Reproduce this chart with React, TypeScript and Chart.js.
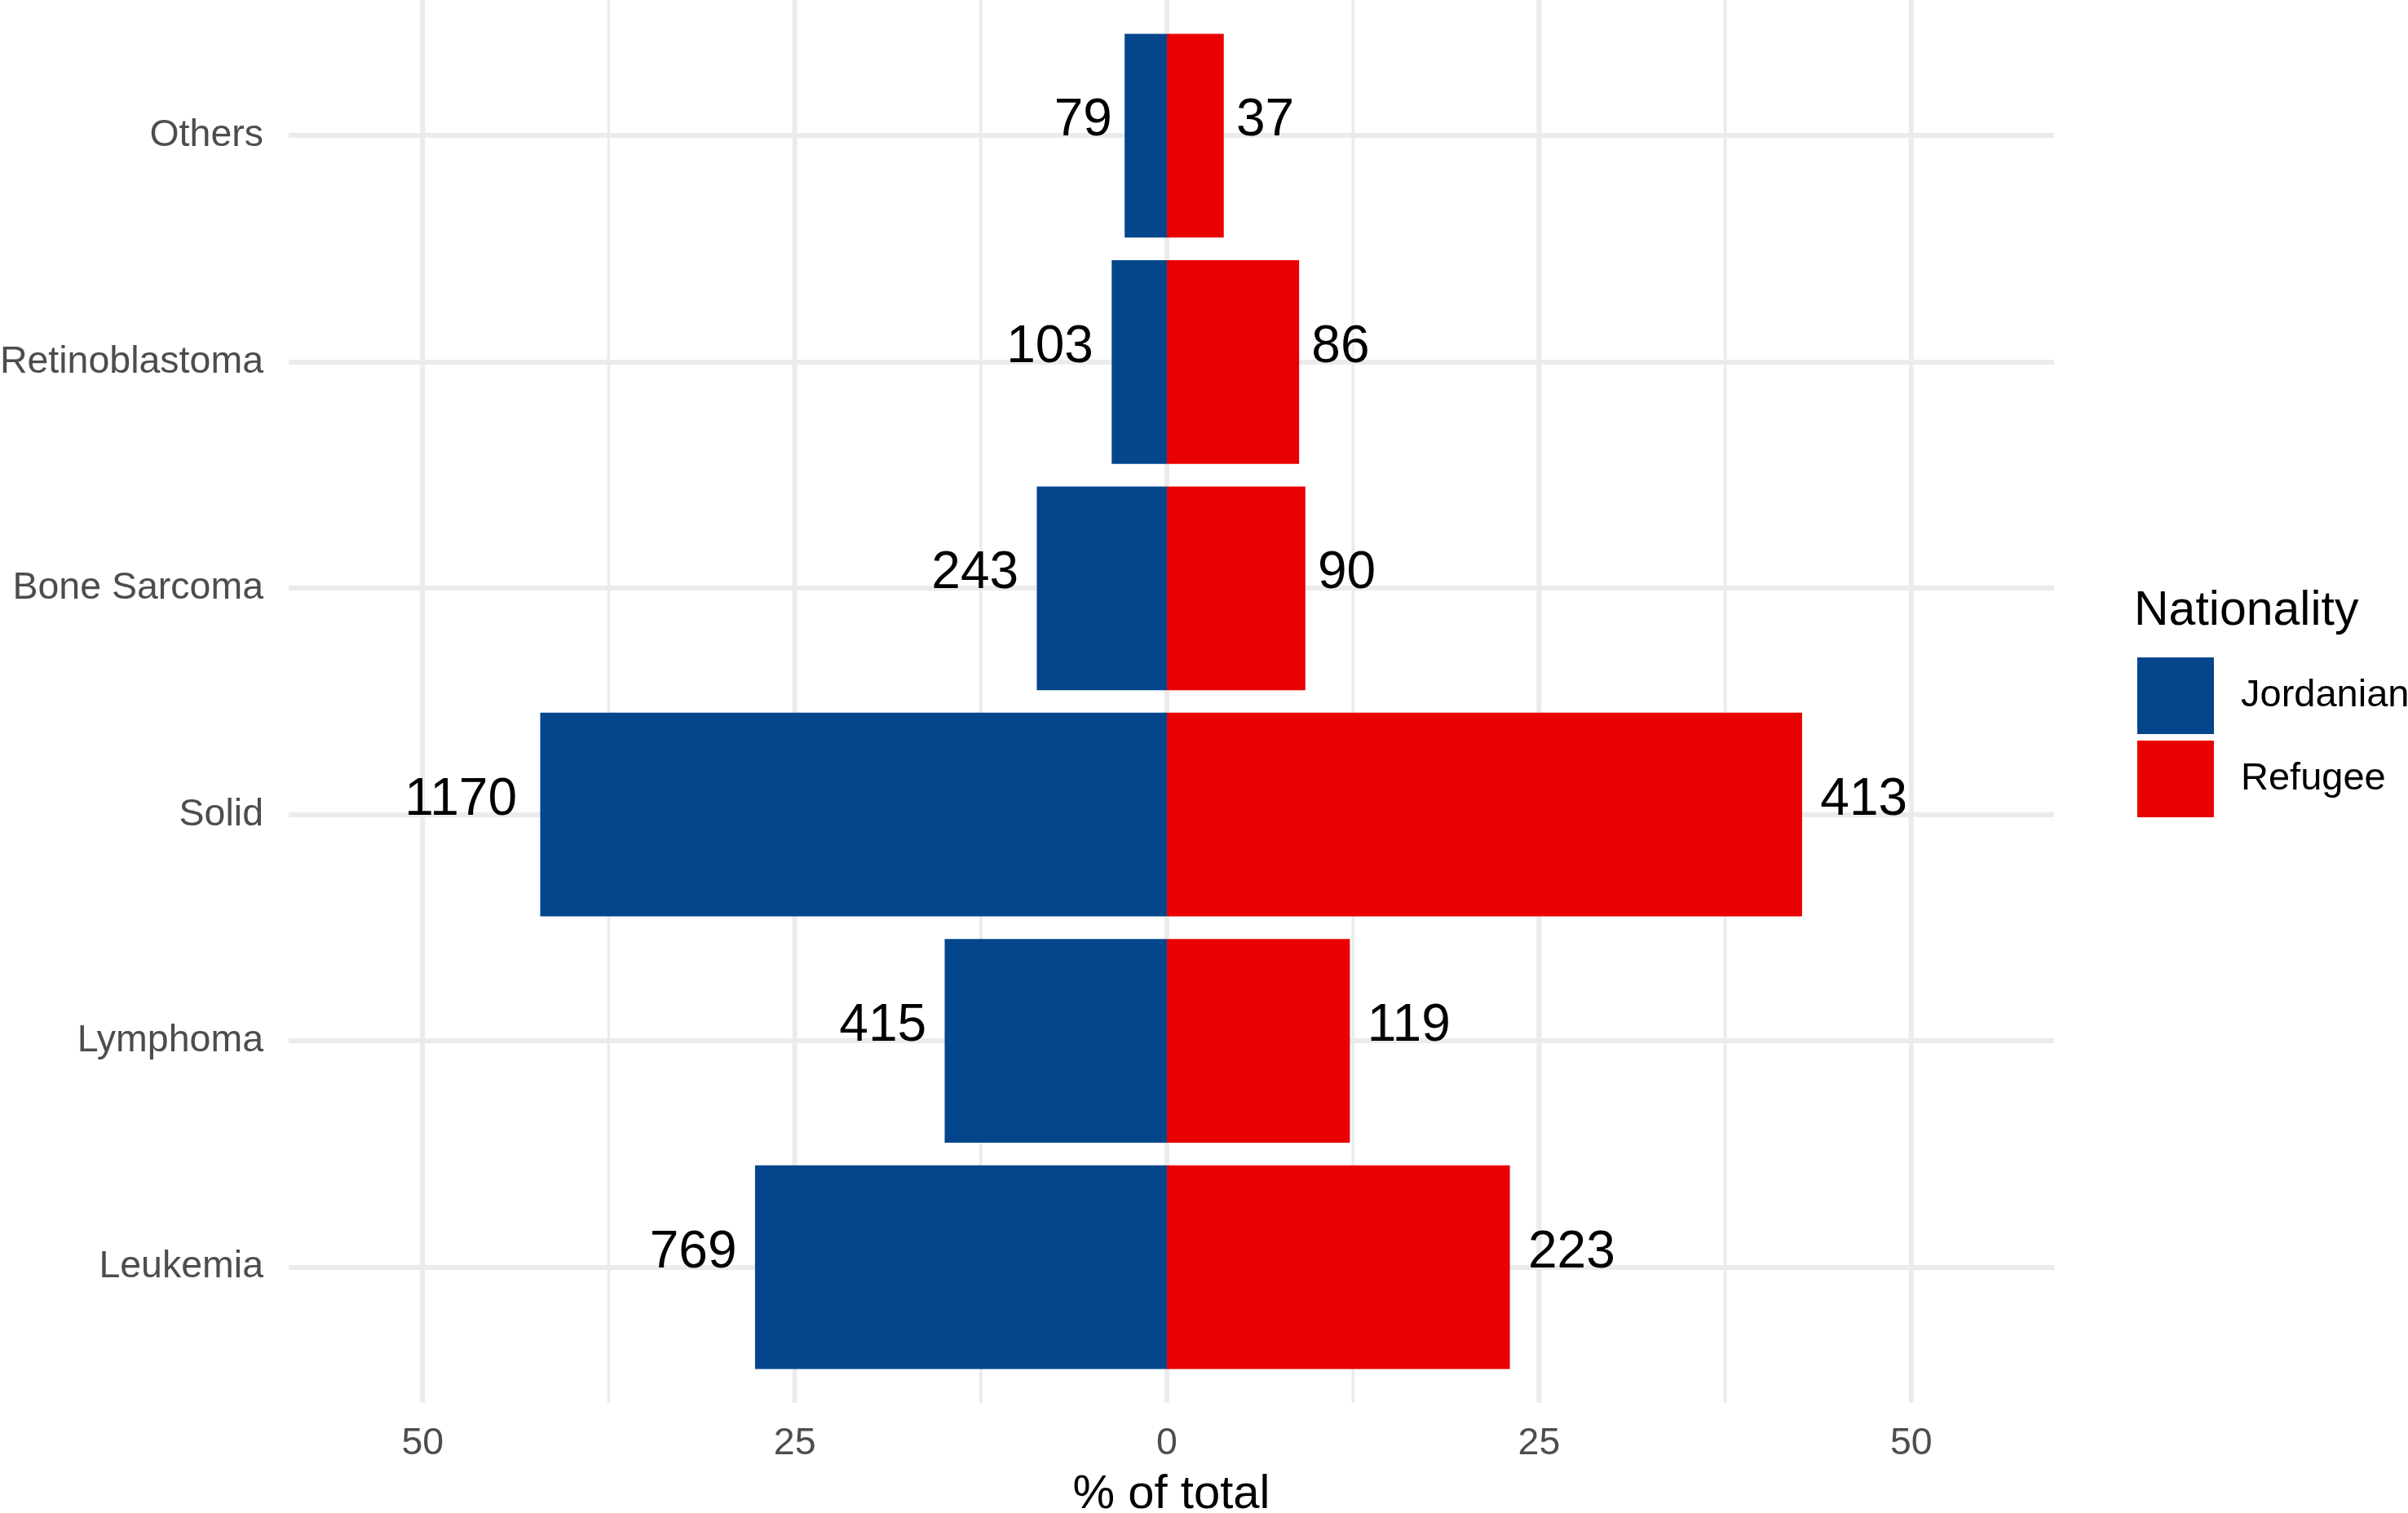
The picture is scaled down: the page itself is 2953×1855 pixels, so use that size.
import { useEffect, useRef } from "react";
import Chart from "chart.js/auto";

// categories from bottom to top
const categories = ["Leukemia", "Lymphoma", "Solid", "Bone Sarcoma", "Retinoblastoma", "Others"];
const jordanianPct = [27.67, 14.93, 42.1, 8.74, 3.71, 2.84];
const refugeePct = [23.04, 12.29, 42.67, 9.3, 8.88, 3.82];
const jordanianCount = [769, 415, 1170, 243, 103, 79];
const refugeeCount = [223, 119, 413, 90, 86, 37];

const seriesNames = ["Jordanian", "Refugee"];
const seriesColors = ["#03468C", "#EA0000"];
const legendTitle = "Nationality";

const xMajorTicks = [-50, -25, 0, 25, 50];
const xTickLabels = ["50", "25", "0", "25", "50"];
const xMinorTicks = [-37.5, -12.5, 12.5, 37.5];

const W = 2953;
const H = 1855;
const FONT = "'Liberation Sans', Arial, Helvetica, sans-serif";
const GRID = "#EBEBEB";
const AXIS_TEXT = "#4D4D4D";

// vertical grid drawn by hand so Chart.js does not cut the bars at the zero line
const xGrid = {
    id: "xGrid",
    beforeDatasetsDraw(chart: Chart) {
        const { ctx, chartArea } = chart;
        const xs = chart.scales.x;
        ctx.save();
        ctx.strokeStyle = GRID;
        [...xMajorTicks, ...xMinorTicks].forEach((v) => {
            const px = xs.getPixelForValue(v);
            ctx.lineWidth = xMajorTicks.includes(v) ? 6 : 3.5;
            ctx.beginPath();
            ctx.moveTo(px, chartArea.top);
            ctx.lineTo(px, chartArea.bottom);
            ctx.stroke();
        });
        ctx.restore();
    },
};

const barLabels = {
    id: "barLabels",
    afterDatasetsDraw(chart: Chart) {
        const ctx = chart.ctx;
        const counts = [jordanianCount, refugeeCount];
        ctx.save();
        ctx.font = `64px ${FONT}`;
        ctx.fillStyle = "#000000";
        ctx.textBaseline = "alphabetic";
        chart.data.datasets.forEach((_ds, di) => {
            const meta = chart.getDatasetMeta(di);
            meta.data.forEach((bar: any, i: number) => {
                const txt = String(counts[di][i]);
                const gap = ctx.measureText(txt).width * 0.2 + 1;
                const neg = di === 0;
                ctx.textAlign = neg ? "right" : "left";
                ctx.fillText(txt, bar.x + (neg ? -gap : gap), bar.y);
            });
        });
        ctx.restore();
    },
};

const legendBox = {
    id: "legendBox",
    afterDraw(chart: Chart) {
        const ctx = chart.ctx;
        ctx.save();
        ctx.fillStyle = "#000000";
        ctx.font = `59px ${FONT}`;
        ctx.textAlign = "left";
        ctx.textBaseline = "alphabetic";
        ctx.fillText(legendTitle, 2617, 766);
        seriesNames.forEach((name, i) => {
            const top = 806 + i * 102;
            ctx.fillStyle = seriesColors[i];
            ctx.fillRect(2621, top, 94, 94);
            ctx.fillStyle = "#000000";
            ctx.font = `47px ${FONT}`;
            ctx.textBaseline = "middle";
            ctx.fillText(name, 2748, top + 47);
        });
        ctx.restore();
    },
};

const noPadding = (axis: any) => {
    axis.paddingTop = 0;
    axis.paddingBottom = 0;
    axis.paddingLeft = 0;
    axis.paddingRight = 0;
};

export default function App() {
    const canvasRef = useRef<HTMLCanvasElement | null>(null);
    const chartRef = useRef<Chart | null>(null);

    useEffect(() => {
        if (!canvasRef.current) return;
        if (chartRef.current) chartRef.current.destroy();

        chartRef.current = new Chart(canvasRef.current, {
            type: "bar",
            data: {
                datasets: [
                    {
                        label: seriesNames[0],
                        data: jordanianPct.map((v, i) => ({ x: -v, y: i })),
                        backgroundColor: seriesColors[0],
                        borderWidth: 0,
                        barPercentage: 0.9,
                        categoryPercentage: 1,
                    },
                    {
                        label: seriesNames[1],
                        data: refugeePct.map((v, i) => ({ x: v, y: i })),
                        backgroundColor: seriesColors[1],
                        borderWidth: 0,
                        barPercentage: 0.9,
                        categoryPercentage: 1,
                    },
                ],
            },
            options: {
                indexAxis: "y",
                responsive: false,
                devicePixelRatio: 1,
                animation: false,
                layout: { padding: { left: 0, right: 434, top: 0, bottom: 0 } },
                plugins: {
                    legend: { display: false },
                    tooltip: { enabled: false },
                },
                scales: {
                    x: {
                        type: "linear",
                        stacked: true,
                        min: -59,
                        max: 59.6,
                        afterBuildTicks: (axis: any) => {
                            axis.ticks = xMajorTicks.map((v) => ({ value: v }));
                        },
                        afterFit: (axis: any) => {
                            axis.height = 135;
                            noPadding(axis);
                        },
                        grid: { display: false },
                        border: { display: false },
                        ticks: {
                            autoSkip: false,
                            maxRotation: 0,
                            padding: 14,
                            color: AXIS_TEXT,
                            font: { family: FONT, size: 46.5 },
                            callback: (value: any) => {
                                const k = xMajorTicks.indexOf(Number(value));
                                return k >= 0 ? xTickLabels[k] : "";
                            },
                        },
                        title: {
                            display: true,
                            text: "% of total",
                            color: "#000000",
                            padding: 0,
                            font: { family: FONT, size: 58, lineHeight: 0.75 },
                        },
                    },
                    y: {
                        type: "linear",
                        stacked: true,
                        offset: false,
                        min: -0.6,
                        max: 5.6,
                        afterBuildTicks: (axis: any) => {
                            axis.ticks = categories.map((_c, i) => ({ value: i }));
                        },
                        afterFit: (axis: any) => {
                            axis.width = 354;
                            noPadding(axis);
                        },
                        grid: {
                            color: GRID,
                            lineWidth: 6,
                            drawTicks: false,
                            offset: false,
                        },
                        border: { display: false },
                        ticks: {
                            autoSkip: false,
                            padding: 31,
                            color: AXIS_TEXT,
                            font: { family: FONT, size: 46.5 },
                            callback: (value: any) => categories[Math.round(Number(value))] ?? "",
                        },
                    },
                },
            },
            plugins: [xGrid, barLabels, legendBox],
        } as any);

        return () => {
            if (chartRef.current) chartRef.current.destroy();
            chartRef.current = null;
        };
    }, []);

    return (
        <div style={{ position: "absolute", left: 0, top: 0, width: W, height: H, background: "#FFFFFF" }}>
            <canvas ref={canvasRef} width={W} height={H} style={{ display: "block", width: W, height: H }} />
        </div>
    );
}
